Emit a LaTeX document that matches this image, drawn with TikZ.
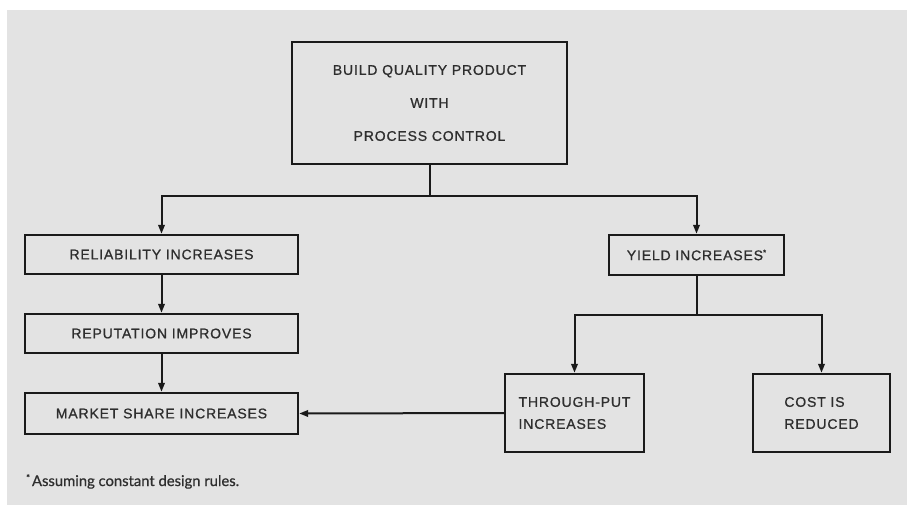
\documentclass[tikz,border=0pt]{standalone}
\usepackage{fontspec}
\setmainfont{Liberation Sans}[LetterSpace=6, FakeBold=0.9]
\newfontfamily\notefont{Lato}[FakeBold=0.7]
\usetikzlibrary{arrows.meta}
\definecolor{paper}{HTML}{E3E3E3}
\definecolor{ink}{HTML}{1A1A1A}
\definecolor{txt}{HTML}{2E2E2E}
\tikzset{
  box/.style={draw=ink, line width=2.4pt, rectangle, inner sep=0pt,
    text=txt, font=\fontsize{14}{17}\selectfont},
  link/.style={draw=ink, line width=2pt},
  arr/.style={link, -{Triangle[length=9pt,width=6.5pt]}}
}
\begin{document}
\begin{tikzpicture}[x=1pt,y=-1pt]
\useasboundingbox (0,0) rectangle (907,505);
\fill[white] (0,0) rectangle (907,505);
\fill[paper] (7,10) rectangle (907,505);

\node[box, minimum width=275pt, minimum height=122pt, align=center] (top) at (429.5,103)
  {BUILD QUALITY PRODUCT\\[16pt]WITH\\[16pt]PROCESS CONTROL};
\node[box, minimum width=273pt, minimum height=39pt] (rel) at (161.5,254.5) {RELIABILITY INCREASES};
\node[box, minimum width=273pt, minimum height=39pt] (rep) at (161.5,333.5) {REPUTATION IMPROVES};
\node[box, minimum width=273pt, minimum height=41pt] (mkt) at (161.5,413.5) {MARKET SHARE INCREASES};
\node[box, minimum width=175pt, minimum height=40pt] (yld) at (696.5,255) {YIELD INCREASES\raisebox{5pt}{\fontsize{8}{8}\selectfont *}};
\node[box, minimum width=139pt, minimum height=78pt, align=left, font=\fontsize{14}{22}\selectfont] (thr) at (574.5,413) {THROUGH-PUT\\INCREASES};
\node[box, minimum width=137pt, minimum height=78pt, align=left, font=\fontsize{14}{22}\selectfont] (cst) at (821.5,413) {COST IS\\REDUCED};

\coordinate (j1) at (429.5,196);
\coordinate (j2) at (696.5,315);

\draw[link] (top.south) -- (j1);
\draw[arr] (j1) -| (rel.north);
\draw[arr] (j1) -| (yld.north);
\draw[arr] (rel.south) -- (rep.north);
\draw[arr] (rep.south) -- (mkt.north);
\draw[link] (yld.south) -- (j2);
\draw[arr] (j2) -| (thr.north);
\draw[arr] (j2) -| (cst.north);
\draw[arr] (thr.west) -- (mkt.east);

\node[anchor=base west, inner sep=0pt, text=txt, font=\notefont\fontsize{14.8}{17}\selectfont] (note) at (26,486)
  {\raisebox{5pt}{\fontsize{9}{9}\selectfont *}\hspace{2pt}Assuming constant design rules.};
\end{tikzpicture}
\end{document}
